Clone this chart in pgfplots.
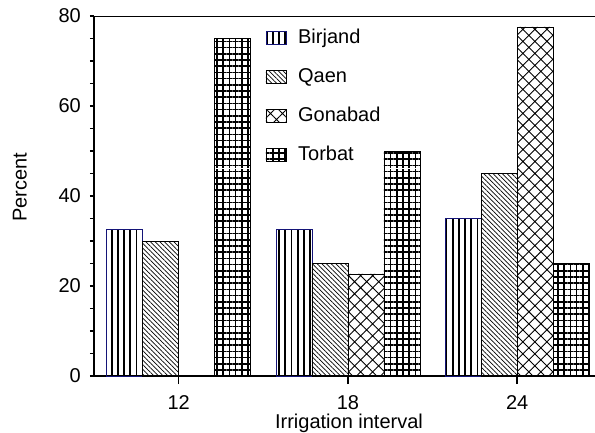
\documentclass[border=0pt]{standalone}
\usepackage{fontspec}
\setmainfont{Liberation Sans}
\usepackage{pgfplots}
\pgfplotsset{compat=1.18}
\usetikzlibrary{patterns.meta}
\definecolor{birjandedge}{RGB}{20,20,120}

\begin{document}
\fontsize{20}{24}\selectfont
\begin{tikzpicture}
\begin{axis}[
    at={(0,0)}, anchor=south west,
    scale only axis,
    width=501pt, height=360pt,
    ybar=0pt, bar width=36pt,
    xmin=-0.5, xmax=2.46,
    ymin=0, ymax=80,
    axis x line*=bottom, axis y line*=left,
    axis line style={line width=1.6pt,-},
    xtick={0,1,2}, xticklabels={12,18,24},
    ytick={0,20,40,60,80},
    minor y tick num=3,
    tick align=outside,
    major tick length=4pt, minor tick length=4pt,
    tick style={line width=1.3pt,black},
    xtick style={/pgfplots/major tick length=8pt},
    /pgf/number format/assume math mode=true,
    tick label style={font=\fontsize{20}{24}\selectfont},
    label style={font=\fontsize{20}{24}\selectfont},
    xticklabel style={inner sep=0pt, anchor=north, yshift=-15pt},
    yticklabel style={inner sep=0pt, anchor=east, xshift=-9pt},
    xlabel={Irrigation interval},
    ylabel={Percent},
    every axis x label/.style={at={(axis description cs:0.509,-0.1472)}, anchor=base},
    every axis y label/.style={at={(axis description cs:-0.148,0.524)}, rotate=90, anchor=center},
    legend style={draw=none, fill=none, inner sep=0pt,
        at={(axis description cs:0.342,0.969)}, anchor=north west,
        row sep=17pt, font=\fontsize{20}{24}\selectfont,
        nodes={text height=14pt, text depth=4pt, inner sep=2pt},
        /tikz/every odd column/.append style={column sep=10pt}},
    legend cell align=left,
    legend image code/.code={\draw[#1] (0pt,-6pt) rectangle (20pt,7pt);},
]
\addplot[draw=birjandedge, line width=0.6pt, pattern={Lines[angle=90,distance=6.2pt,line width=1.8pt]}]
    coordinates {(0,32.6) (1,32.6) (2,35)};
\addplot[draw=black, line width=0.6pt, pattern={Lines[angle=-45,distance=3.3pt,line width=0.7pt]}]
    coordinates {(0,30) (1,25) (2,45)};
\addplot[draw=black, line width=0.6pt, pattern={Hatch[angle=45,distance=8.5pt,line width=0.9pt]}]
    coordinates {(1,22.7) (2,77.6)};
\addplot[draw=black, line width=0.6pt, pattern={Hatch[angle=0,distance=6.2pt,line width=1.7pt]}]
    coordinates {(0,75) (1,50) (2,25)};
\legend{Birjand,Qaen,Gonabad,Torbat}
\draw[line width=1.6pt] (rel axis cs:0,1) -- (rel axis cs:1,1);
\end{axis}
\pgfresetboundingbox
\path[use as bounding box] (-94pt,-56pt) rectangle (501pt,376pt);
\end{tikzpicture}
\end{document}
